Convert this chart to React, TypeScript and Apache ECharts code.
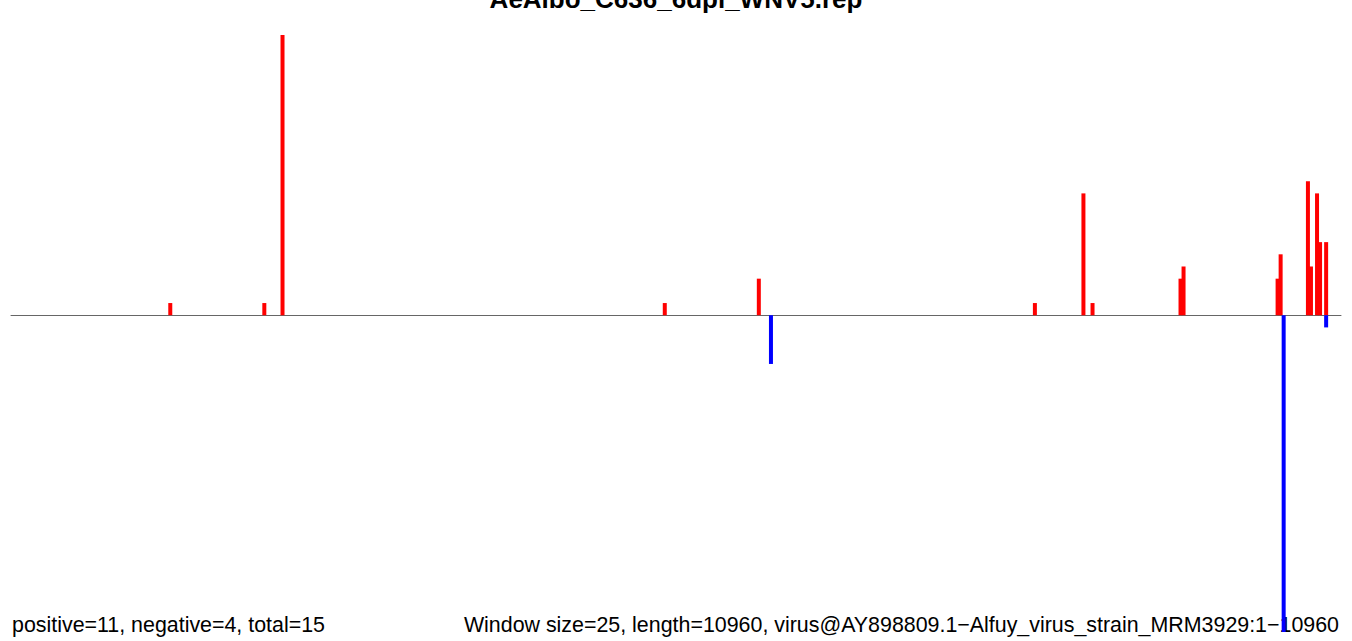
import React, { useEffect, useRef } from "react";
import * as echarts from "echarts";

const LENGTH = 10960;
const WINDOW = 25;
const positiveStarts = [1300, 2075, 2225, 5375, 6150, 8425, 8825, 8900, 9625, 9650, 10425, 10450, 10675, 10700, 10750, 10775, 10825];
const positiveValues = [1, 1, 23, 1, 3, 1, 10, 1, 3, 4, 3, 5, 11, 4, 10, 6, 6];
const negativeStarts = [6250, 10475, 10825];
const negativeValues = [-4, -26, -1];

const titleText = "AeAlbo_C636_6dpi_WNV5.rep";
const leftNote = "positive=11, negative=4, total=15";
const rightNote = "Window size=25, length=10960, virus@AY898809.1\u2212Alfuy_virus_strain_MRM3929:1\u221210960";

function makeRender(color: string) {
  return (_params: any, api: any) => {
    const s = api.value(0);
    const v = api.value(1);
    const c = s + WINDOW / 2;
    const p0 = api.coord([c, 0]);
    const p1 = api.coord([c, v]);
    return {
      type: "rect",
      shape: {
        x: p0[0] - 2,
        y: Math.min(p0[1], p1[1]),
        width: 4,
        height: Math.abs(p1[1] - p0[1]),
      },
      style: { fill: color },
    };
  };
}

export default function App() {
  const ref = useRef<HTMLDivElement>(null);
  useEffect(() => {
    if (!ref.current) return;
    const chart = echarts.init(ref.current, undefined, { renderer: "svg" });
    const font = "'Liberation Sans', Arial, Helvetica, sans-serif";
    chart.setOption({
      animation: false,
      backgroundColor: "#ffffff",
      grid: { left: 11, right: 11, top: 35, bottom: 9 },
      xAxis: {
        type: "value",
        min: 0,
        max: LENGTH,
        axisLine: { show: true, onZero: true, lineStyle: { color: "#666666", width: 1 } },
        axisTick: { show: false },
        axisLabel: { show: false },
        splitLine: { show: false },
      },
      yAxis: {
        type: "value",
        min: -26,
        max: 23,
        show: false,
        splitLine: { show: false },
      },
      series: [
        {
          type: "custom",
          renderItem: makeRender("#ff0000"),
          data: positiveStarts.map((s, i) => [s, positiveValues[i]]),
          z: 3,
        },
        {
          type: "custom",
          renderItem: makeRender("#0000ff"),
          data: negativeStarts.map((s, i) => [s, negativeValues[i]]),
          z: 3,
        },
      ],
      graphic: [
        {
          type: "text",
          x: 676,
          y: -1,
          z: 10,
          style: {
            text: titleText,
            font: `bold 26px ${font}`,
            fill: "#000000",
            textAlign: "center",
            textVerticalAlign: "middle",
          },
        },
        {
          type: "text",
          x: 12,
          y: 625,
          z: 10,
          style: {
            text: leftNote,
            font: `21.4px ${font}`,
            fill: "#000000",
            textAlign: "left",
            textVerticalAlign: "middle",
          },
        },
        {
          type: "text",
          x: 1339,
          y: 625,
          z: 1,
          style: {
            text: rightNote,
            font: `21.4px ${font}`,
            fill: "#000000",
            textAlign: "right",
            textVerticalAlign: "middle",
          },
        },
      ],
    });
    return () => chart.dispose();
  }, []);
  return (
    <div
      ref={ref}
      style={{ position: "fixed", left: 0, top: 0, width: 1352, height: 641 }}
    />
  );
}
